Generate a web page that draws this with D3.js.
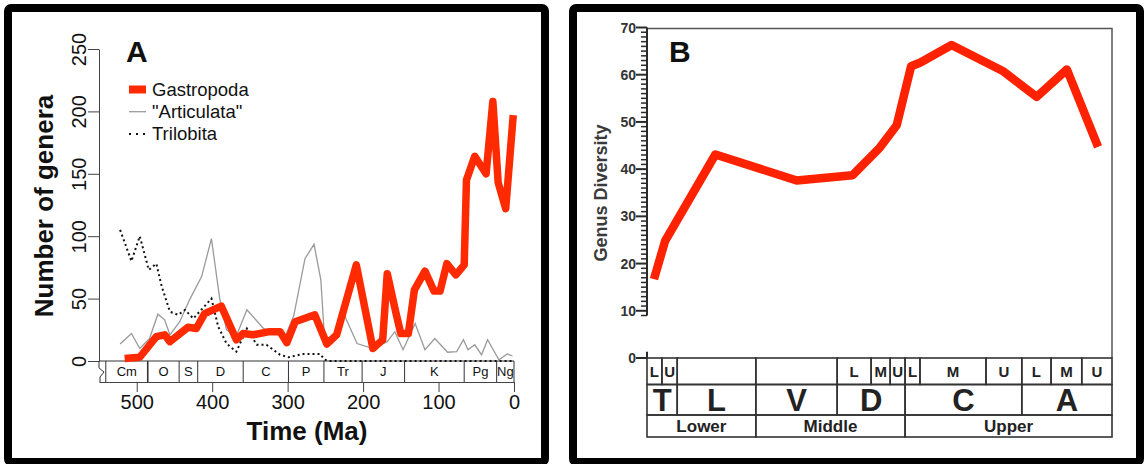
<!DOCTYPE html>
<html><head><meta charset="utf-8">
<script src="https://cdn.jsdelivr.net/npm/d3@7"></script>
<style>
html,body{margin:0;padding:0;background:#fff;}
svg{display:block;font-family:"Liberation Sans",Arial,Helvetica,sans-serif;}
</style></head><body>
<svg id="chart" width="1144" height="464"></svg>
<script>
// ---------- Panel A data ----------
const gastroAge = [516,496,474,463,456,432,421,410,388,368,359,346,324,310,301,290,264,248,235,209,187,174,168,157,150,140,132,118,106,98,89,77,66,63,52,37,28,21,11,1];
const gastroVal = [2,3,19.5,21,15.5,27,26,38,44,17,22,21,23.5,23.5,14.7,31.5,37,13.6,21,77,10,17,70,40,22,22,57,72,56,56,78,69,77,145,164,150,208,143,122,197];
const articAge = [522,507,496,483,472,463,456,443,430,414,401,390,381,368,354,332,318,303,292,277,265,256,251,238,225,208,187,168,158,147,131,118,105,88,76,67,61,52,43,35,20,9,2];
const articVal = [13.6,22,10,18,37.5,33,21,31.5,49,67.6,98,50,25,20,41,26,24,20,36,82,93.5,65,17,21,37,14,10,15.5,23.5,9,30,9,18,7,7.5,17,9,13,5,17,1,5.6,4];
const triloAge = [522,507,496,484,474,467,456,445,436,425,401,392,381,368,354,341,328,310,299,279,257,251,245,0];
const triloVal = [105,80,100,73,78,60,39.5,37,41,34,50,27.5,14,7.5,26,13,13,5,3,5.6,5.6,1,0,0];
const periodNames = ["Cm","O","S","D","C","P","Tr","J","K","Pg","Ng"];
const periodBounds = [541,485.4,443.8,419.2,358.9,298.9,251.9,201.3,145,66,23,0];
const timeTicks = [500,400,300,200,100,0];
const genusTicks = [0,50,100,150,200,250];
const legendNames = ["Gastropoda","\"Articulata\"","Trilobita"];

// ---------- Panel B data ----------
const stagePos = [1.5,3.9,14.7,32.2,44.2,50.1,53.7,56.8,58.8,65.5,76.5,83.8,90.3,97.0];
const diversity = [16.7,24.8,43.1,37.6,38.7,44.6,49.3,61.8,62.6,66.3,60.8,55.3,61.1,44.7];
const divTicks = [0,10,20,30,40,50,60,70];
const subEdges = [0,3.2,6.5,23.4,40.9,48.2,52.3,55.5,58.7,72.9,80.6,86.9,93.5,100];
const subLabels = ["L","U","","","L","M","U","L","M","U","L","M","U"];
const stageEdges = [0,6.5,23.4,40.9,55.5,80.6,100];
const stageLabels = ["T","L","V","D","C","A"];
const seriesEdges = [0,23.4,55.5,100];
const seriesLabels = ["Lower","Middle","Upper"];

const svg = d3.select("#chart");
const RED = "#ff2a00";

// outer frames
svg.append("rect").attr("x",8).attr("y",8).attr("width",537).attr("height",454)
  .attr("rx",3).attr("fill","none").attr("stroke","#000").attr("stroke-width",8);
svg.append("rect").attr("x",573).attr("y",8).attr("width",567).attr("height",454)
  .attr("rx",3).attr("fill","none").attr("stroke","#000").attr("stroke-width",8);

// ================= Panel A =================
const A = svg.append("g");
const x = d3.scaleLinear().domain([550,0]).range([99,514]);
const y = d3.scaleLinear().domain([0,250]).range([361,49]);

// y axis
const ya = A.append("g").attr("transform","translate(99,0)")
  .call(d3.axisLeft(y).tickValues(genusTicks).tickSize(11).tickSizeOuter(0));
ya.selectAll("path,line").attr("stroke","#444");
ya.selectAll("text").attr("x",null).attr("dy",null).attr("y",null)
  .attr("transform","translate(-13,0) rotate(-90)").attr("text-anchor","middle")
  .attr("font-size",20).attr("fill","#111").attr("font-family","Liberation Sans, Arial, sans-serif");

// x axis (below period box)
const xa = A.append("g").attr("transform","translate(0,382)")
  .call(d3.axisBottom(x).tickValues(timeTicks).tickSize(10).tickSizeOuter(0));
xa.selectAll("path,line").attr("stroke","#444");
xa.selectAll("text").attr("dy",null).attr("y",27)
  .attr("font-size",20).attr("fill","#111").attr("font-family","Liberation Sans, Arial, sans-serif");

// period box
A.append("line").attr("x1",99).attr("x2",514).attr("y1",361).attr("y2",361).attr("stroke","#333");
A.append("path").attr("d","M99,361V368L104,372L100,377V382").attr("fill","none").attr("stroke","#333");
A.selectAll("line.pb").data(periodBounds).join("line").attr("class","pb")
  .attr("x1",d=>x(d)).attr("x2",d=>x(d)).attr("y1",361).attr("y2",382)
  .attr("stroke","#333").attr("stroke-width",(d,i)=>i===1?1.6:1);
A.selectAll("text.pn").data(periodNames).join("text").attr("class","pn")
  .attr("x",(d,i)=>(x(periodBounds[i])+x(periodBounds[i+1]))/2).attr("y",375.5)
  .attr("text-anchor","middle").attr("font-size",13).attr("fill","#111").text(d=>d);

// titles
A.append("text").attr("x",307).attr("y",440).attr("text-anchor","middle")
  .attr("font-size",26).attr("font-weight","bold").attr("fill","#111").text("Time (Ma)");
A.append("text").attr("transform","translate(53,206) rotate(-90)").attr("text-anchor","middle")
  .attr("font-size",26).attr("font-weight","bold").attr("fill","#111").text("Number of genera");
A.append("text").attr("x",126).attr("y",62).attr("font-size",30).attr("font-weight","bold")
  .attr("fill","#111").text("A");

// series
const zip = (a,b)=>a.map((v,i)=>[v,b[i]]);
const lineA = d3.line().x(d=>x(d[0])).y(d=>y(d[1]));
A.append("path").datum(zip(articAge,articVal)).attr("d",lineA)
  .attr("fill","none").attr("stroke","#9a9a9a").attr("stroke-width",1.3);
A.append("path").datum(zip(triloAge,triloVal)).attr("d",lineA)
  .attr("fill","none").attr("stroke","#111").attr("stroke-width",2).attr("stroke-dasharray","2,3");
A.append("path").datum(zip(gastroAge,gastroVal)).attr("d",lineA)
  .attr("fill","none").attr("stroke",RED).attr("stroke-width",7.5)
  .attr("stroke-linejoin","round");

// legend
const legStyles = [
  {stroke:RED, w:8, dash:null},
  {stroke:"#9a9a9a", w:1.3, dash:null},
  {stroke:"#111", w:2, dash:"2,5"}
];
const leg = A.selectAll("g.leg").data(legendNames).join("g").attr("class","leg")
  .attr("transform",(d,i)=>`translate(0,${89.5+i*22.2})`);
leg.append("line").attr("x1",129).attr("x2",146).attr("y1",0).attr("y2",0)
  .attr("stroke",(d,i)=>legStyles[i].stroke).attr("stroke-width",(d,i)=>legStyles[i].w)
  .attr("stroke-dasharray",(d,i)=>legStyles[i].dash);
leg.append("text").attr("x",152).attr("y",6.5).attr("font-size",18.5).attr("fill","#111").text(d=>d);

// ================= Panel B =================
const B = svg.append("g");
const xb = d3.scaleLinear().domain([0,100]).range([647,1112]);
const yb = d3.scaleLinear().domain([0,70]).range([358,27.5]);
const INK = "#2a2a2a";

// plot frame (top and right)
B.append("path").attr("d",`M${xb(0)},${yb(70)+1}H${xb(100)}V${yb(0)}`)
  .attr("fill","none").attr("stroke","#555").attr("stroke-width",1.5);

// axis line (broken near the bottom as in the scan)
B.append("line").attr("x1",xb(0)).attr("x2",xb(0)).attr("y1",yb(70)).attr("y2",yb(9))
  .attr("stroke",INK).attr("stroke-width",2);
B.append("line").attr("x1",xb(0)).attr("x2",xb(0)).attr("y1",yb(1.3)).attr("y2",yb(0))
  .attr("stroke",INK).attr("stroke-width",2);
const minor = d3.range(9,70).filter(v=>v%10!==0);
B.selectAll("line.mn").data(minor).join("line").attr("class","mn")
  .attr("x1",xb(0)-6).attr("x2",xb(0)).attr("y1",d=>yb(d)).attr("y2",d=>yb(d))
  .attr("stroke",INK).attr("stroke-width",1.5);
B.selectAll("line.mj").data(divTicks).join("line").attr("class","mj")
  .attr("x1",xb(0)-11).attr("x2",xb(0)).attr("y1",d=>yb(d)).attr("y2",d=>yb(d))
  .attr("stroke",INK).attr("stroke-width",2);
B.selectAll("text.mj").data(divTicks).join("text").attr("class","mj")
  .attr("x",xb(0)-11).attr("y",d=>yb(d)).attr("dy","0.36em").attr("text-anchor","end")
  .attr("font-size",14).attr("font-weight","bold").attr("fill","#333").text(d=>d);

B.append("text").attr("transform","translate(607,193) rotate(-90)").attr("text-anchor","middle")
  .attr("font-size",18).attr("font-weight","bold").attr("fill","#3a3a3a").text("Genus Diversity");
B.append("text").attr("x",669).attr("y",62).attr("font-size",30).attr("font-weight","bold")
  .attr("fill","#111").text("B");

// stage table
const rows = [
  {edges:subEdges, labels:subLabels, y0:358, y1:384.5, fs:15, ty:377},
  {edges:stageEdges, labels:stageLabels, y0:384.5, y1:415, fs:31, ty:411},
  {edges:seriesEdges, labels:seriesLabels, y0:415, y1:437, fs:17, ty:432}
];
rows.forEach(r=>{
  const g = B.append("g");
  g.selectAll("rect").data(r.labels).join("rect")
    .attr("x",(d,i)=>xb(r.edges[i])).attr("y",r.y0)
    .attr("width",(d,i)=>xb(r.edges[i+1])-xb(r.edges[i])).attr("height",r.y1-r.y0)
    .attr("fill","none").attr("stroke","#333").attr("stroke-width",1.6);
  g.selectAll("text").data(r.labels).join("text")
    .attr("x",(d,i)=>(xb(r.edges[i])+xb(r.edges[i+1]))/2).attr("y",r.ty)
    .attr("text-anchor","middle").attr("font-size",r.fs).attr("font-weight","bold")
    .attr("fill","#222").text(d=>d);
});

// diversity line
const lineB = d3.line().x(d=>xb(d[0])).y(d=>yb(d[1]));
B.append("path").datum(zip(stagePos,diversity)).attr("d",lineB)
  .attr("fill","none").attr("stroke","#ff2200").attr("stroke-width",8.5)
  .attr("stroke-linejoin","round");
</script>
</body></html>
